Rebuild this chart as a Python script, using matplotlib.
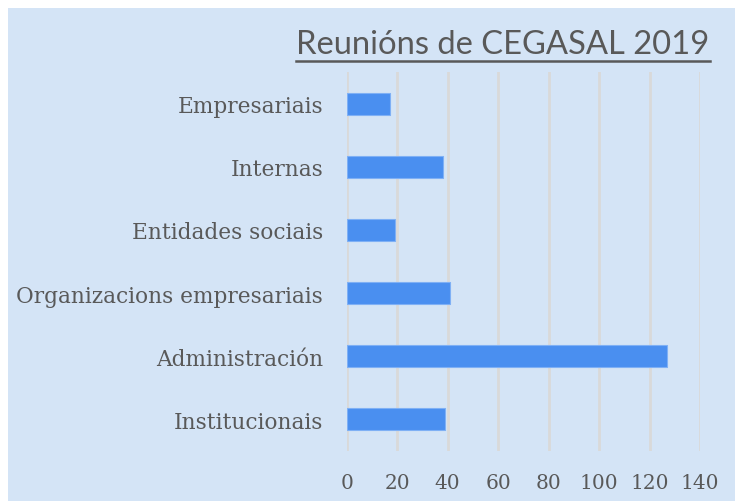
import matplotlib
matplotlib.use("Agg")
import matplotlib.pyplot as plt
from matplotlib.patches import Rectangle
from matplotlib.lines import Line2D

# data (top to bottom as shown)
categories = ["Empresariais", "Internas", "Entidades sociais",
              "Organizacions empresariais", "Administración", "Institucionais"]
values = [17, 38, 19, 41, 127, 39]
xticks = [0, 20, 40, 60, 80, 100, 120, 140]
title = "Reunións de CEGASAL 2019"

bg = "#d4e4f6"
bar_color = "#4a8ff0"
text_color = "#595959"
grid_color = "#d9d9d9"

W, H = 735, 502
fig = plt.figure(figsize=(W / 100, H / 100), dpi=100, facecolor="white")

# chart area background (white margin on top/left)
fig.patches.append(Rectangle((8 / W, 0), 1, (H - 9) / H, transform=fig.transFigure,
                             facecolor=bg, edgecolor="none", zorder=-10))

ax = fig.add_axes([346.7 / W, 1 - 452 / H, (700 - 346.7) / W, (452 - 73) / H])
ax.set_facecolor("none")
ax.set_zorder(5)

ypos = list(range(len(categories)))[::-1]
ax.barh(ypos, values, height=0.35, color=bar_color, edgecolor="#7fb0f5",
        linewidth=0.8, zorder=3)

ax.set_xlim(0, 140)
ax.set_ylim(-0.5, len(categories) - 0.5)
ax.set_xticks(xticks)
ax.set_yticks(ypos)
ax.set_yticklabels(categories)
ax.tick_params(axis="both", length=0, colors=text_color)
ax.tick_params(axis="x", pad=16)
ax.tick_params(axis="y", pad=17)
for lab in ax.get_xticklabels():
    lab.set_fontfamily("DejaVu Serif")
    lab.set_fontsize(14.5)
for lab in ax.get_yticklabels():
    lab.set_fontfamily("DejaVu Serif")
    lab.set_fontsize(15.6)

ax.grid(axis="x", color=grid_color, linewidth=2, zorder=0)
for s in ax.spines.values():
    s.set_visible(False)

# title, underlined
t = fig.text(503 / W, 1 - 45 / H, title, ha="center", va="center",
             fontsize=23.6, family="Lato", color=text_color, zorder=6)
fig.canvas.draw()
bb = t.get_window_extent()
fig.add_artist(Line2D([bb.x0 / W, bb.x1 / W], [1 - 62 / H, 1 - 62 / H],
                      transform=fig.transFigure, color=text_color, linewidth=1.8,
                      zorder=6))

fig.savefig("out.png", dpi=100, facecolor="white")
